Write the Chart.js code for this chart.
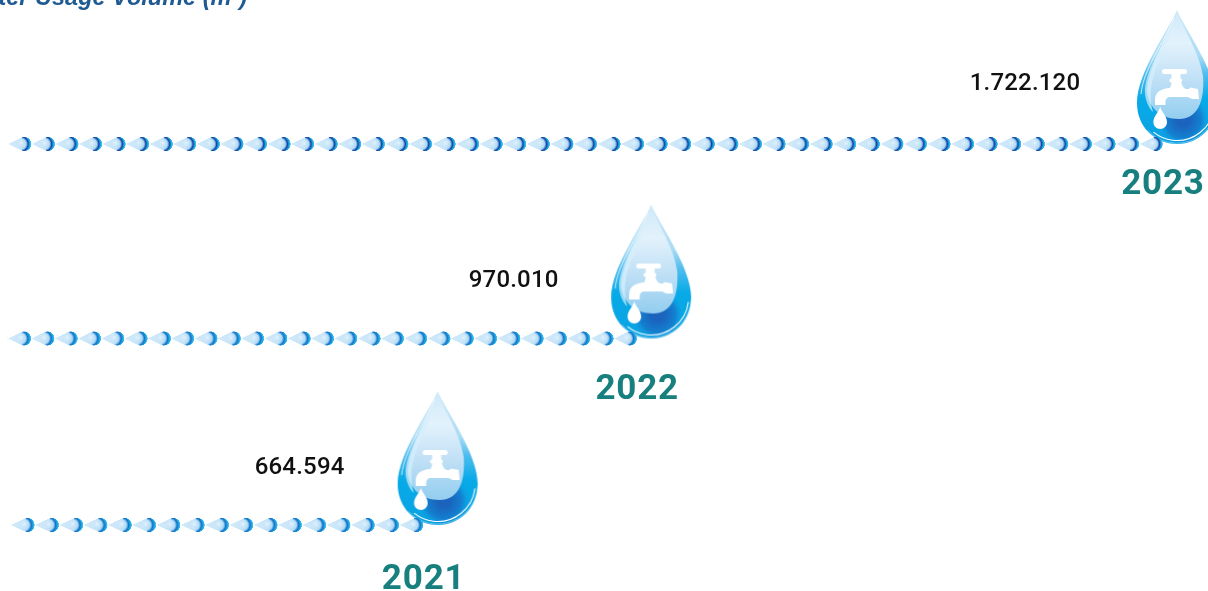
<!DOCTYPE html>
<html><head><meta charset="utf-8">
<style>html,body{margin:0;padding:0;background:#fff;overflow:hidden}canvas{display:block}</style>
<script src="https://cdn.jsdelivr.net/npm/chart.js@4"></script>
</head><body><canvas id="c" width="1208" height="591"></canvas>
<script>
const titleText = 'Water Usage Volume (m³)';
const years = ['2023', '2022', '2021'];
const usage = [1722120, 970010, 664594];
const chainStart = [70500, 70500, 74000];

const rowLayout = {
  nudge: [0, 4, 0],
  period: [23.57, 23.3, 24.3],
  navy: ['#1b3c9a', '#1a6fc4', '#1a6fc4'],
  valueDx: [-138, -123.5, -124],
  valueDy: [-60, -58, -57],
  yearDy: [41.5, 52, 55]
};

class RowScale extends Chart.CategoryScale {
  getPixelForValue(value, index) {
    const i = typeof value === 'number' ? value : this.parse(value);
    return super.getPixelForValue(value, index) + (rowLayout.nudge[Math.round(i)] || 0);
  }
}
RowScale.id = 'rowScale';
RowScale.defaults = {};
Chart.register(RowScale);

function smallDrop(g, w, navy) {
  const r = 7, cy = 8, cx = w - r - 0.3, tip = 0.2;
  const a = Math.acos(r / (cx - tip));
  const shape = () => {
    g.beginPath();
    g.moveTo(tip, cy);
    g.lineTo(cx - r * Math.cos(a), cy - r * Math.sin(a));
    g.arc(cx, cy, r, Math.PI + a, Math.PI - a);
    g.closePath();
  };
  shape();
  const lg = g.createLinearGradient(tip, 0, w, 0);
  lg.addColorStop(0, '#d3ebfa');
  lg.addColorStop(0.5, '#c8e5f8');
  lg.addColorStop(0.8, '#a8d7f4');
  lg.addColorStop(1, '#7fc6ee');
  g.fillStyle = lg; g.fill();
  g.save(); shape(); g.clip();
  const rim = g.createRadialGradient(cx - 3.5, cy, 3, cx - 3.5, cy, 10.7);
  rim.addColorStop(0, 'rgba(60,160,230,0)');
  rim.addColorStop(0.25, 'rgba(60,160,230,0)');
  rim.addColorStop(0.55, navy);
  rim.addColorStop(0.76, '#15a6e4');
  rim.addColorStop(1, '#5fc6f0');
  g.fillStyle = rim;
  g.fillRect(cx - 2, 0, r + 4, 16);
  const hi = g.createRadialGradient(cx - 3, cy - 1, 0, cx - 3, cy - 1, 5.5);
  hi.addColorStop(0, 'rgba(235,247,255,0.8)');
  hi.addColorStop(1, 'rgba(200,230,250,0)');
  g.fillStyle = hi;
  g.fillRect(cx - 9, 0, 14, 16);
  g.restore();
}

function chainFill(ctx) {
  const i = ctx.dataIndex;
  if (i === undefined) return '#8fd0f0';
  const chart = ctx.chart;
  const xs = chart.scales.x, ys = chart.scales.y;
  const period = rowLayout.period[i];
  const k = 4, tw = Math.round(period * k), th = 16 * k;
  const tile = document.createElement('canvas');
  tile.width = tw; tile.height = th;
  const g = tile.getContext('2d');
  g.scale(tw / period, k);
  smallDrop(g, period, rowLayout.navy[i]);
  const pat = chart.ctx.createPattern(tile, 'repeat');
  pat.setTransform(new DOMMatrix()
    .translate(xs.getPixelForValue(usage[i]), ys.getPixelForValue(i) - 8)
    .scale(period / tw, 1 / k));
  return pat;
}

function bigDropImage() {
  const W = 200, H = 320;
  const cv = document.createElement('canvas');
  cv.width = W; cv.height = H;
  const g = cv.getContext('2d');
  g.translate(W / 2 + 14 - 40, H / 2 - 134);
  const outer = () => {
    g.beginPath();
    g.moveTo(40, 0);
    g.bezierCurveTo(47, 18, 80, 62, 80, 93);
    g.bezierCurveTo(80, 117, 62, 134, 40, 134);
    g.bezierCurveTo(18, 134, 0, 117, 0, 93);
    g.bezierCurveTo(0, 62, 33, 18, 40, 0);
    g.closePath();
  };
  outer();
  const base = g.createLinearGradient(0, 0, 0, 134);
  base.addColorStop(0, '#cfe9f9');
  base.addColorStop(0.34, '#a9dbf5');
  base.addColorStop(0.48, '#4fbdee');
  base.addColorStop(0.66, '#08aae8');
  base.addColorStop(1, '#0aa2e2');
  g.fillStyle = base; g.fill();
  g.save(); outer(); g.clip();
  const deep = g.createRadialGradient(46, 110, 6, 46, 110, 26);
  deep.addColorStop(0, '#1b63bc');
  deep.addColorStop(0.6, '#1480d0');
  deep.addColorStop(1, 'rgba(16,160,226,0)');
  g.fillStyle = deep; g.fillRect(0, 70, 80, 64);
  g.restore();

  g.beginPath();
  g.moveTo(40, 2);
  g.bezierCurveTo(48, 22, 62, 42, 66, 66);
  g.bezierCurveTo(68, 92, 60, 109, 42, 109);
  g.bezierCurveTo(24, 109, 12, 98, 10, 82);
  g.bezierCurveTo(10, 60, 32, 22, 40, 2);
  g.closePath();
  const lit = g.createLinearGradient(0, 0, 0, 110);
  lit.addColorStop(0, '#cfe9f9');
  lit.addColorStop(0.3, '#e3f2fc');
  lit.addColorStop(0.58, '#c6e3f7');
  lit.addColorStop(1, '#92cdef');
  g.fillStyle = lit; g.fill();

  g.beginPath();
  g.moveTo(36, 14);
  g.bezierCurveTo(26, 36, 7, 62, 8, 84);
  g.bezierCurveTo(9, 92, 12, 98, 16, 102);
  g.bezierCurveTo(12, 88, 13, 70, 22, 52);
  g.bezierCurveTo(28, 38, 33, 26, 36, 14);
  g.closePath();
  g.fillStyle = 'rgba(214,240,252,0.7)'; g.fill();

  g.beginPath();
  g.moveTo(37, 8);
  g.bezierCurveTo(28, 30, 6, 60, 4, 84);
  g.strokeStyle = 'rgba(255,255,255,0.8)'; g.lineWidth = 0.9; g.stroke();

  g.beginPath();
  g.arc(40, 93, 37.5, 0.12, 2.25);
  g.strokeStyle = '#ffffff'; g.lineWidth = 1.1; g.stroke();
  g.beginPath();
  g.arc(40, 93, 40.2, 0.05, 2.4);
  g.strokeStyle = 'rgba(255,255,255,0.55)'; g.lineWidth = 0.7; g.stroke();

  g.fillStyle = '#ffffff';
  g.beginPath();
  g.roundRect(25, 59, 25, 5, 2.5); g.fill();
  g.beginPath();
  g.roundRect(34.5, 62, 9, 8, 1.5); g.fill();
  g.beginPath();
  g.roundRect(32.5, 68.5, 12.5, 4, 1.5); g.fill();
  g.beginPath();
  g.moveTo(35, 72);
  g.lineTo(44, 72);
  g.bezierCurveTo(45, 75, 46, 78, 49, 79);
  g.lineTo(52, 79);
  g.lineTo(53, 77.5);
  g.lineTo(61, 79);
  g.lineTo(62, 89);
  g.lineTo(55, 89);
  g.lineTo(51, 87);
  g.lineTo(34, 87);
  g.bezierCurveTo(30, 87, 28.5, 89, 28.5, 92);
  g.lineTo(28.5, 95);
  g.lineTo(18, 95);
  g.lineTo(18, 90);
  g.bezierCurveTo(18, 82, 24, 78.5, 33, 78);
  g.closePath();
  g.fill();
  g.beginPath();
  g.moveTo(23.2, 97);
  g.bezierCurveTo(25, 103, 30, 106, 30, 112);
  g.bezierCurveTo(30, 116, 27, 119, 23.2, 119);
  g.bezierCurveTo(19.4, 119, 16.4, 116, 16.4, 112);
  g.bezierCurveTo(16.4, 106, 21.4, 103, 23.2, 97);
  g.closePath();
  g.fill();
  return cv;
}

const bigDrop = bigDropImage();

const textPlugin = {
  id: 'rowText',
  afterDatasetsDraw(chart) {
    const g = chart.ctx, xs = chart.scales.x, ys = chart.scales.y;
    g.save();
    g.textBaseline = 'middle';
    years.forEach((yr, i) => {
      const x = xs.getPixelForValue(usage[i]);
      const y = ys.getPixelForValue(i);
      g.textAlign = 'center';
      g.fillStyle = '#111111';
      g.font = '500 24px Roboto';
      g.letterSpacing = '0.2px';
      g.fillText(usage[i].toLocaleString('de-DE'), x + rowLayout.valueDx[i], y + rowLayout.valueDy[i]);
      g.fillStyle = '#17807f';
      g.font = '700 35px Roboto';
      g.letterSpacing = '0.8px';
      g.fillText(yr, x, y + rowLayout.yearDy[i]);
      g.letterSpacing = '0px';
    });
    g.textBaseline = 'alphabetic';
    g.textAlign = 'right';
    g.fillStyle = '#1f5b92';
    g.font = 'italic 700 23.5px "Liberation Sans"';
    g.fillText(titleText, 247, 5);
    g.restore();
  }
};

new Chart(document.getElementById('c'), {
  type: 'bar',
  data: {
    labels: years,
    datasets: [
      {
        type: 'line',
        label: 'Water usage',
        data: usage,
        showLine: false,
        pointStyle: bigDrop,
        pointRadius: 10,
        clip: false,
        order: 2
      },
      {
        type: 'bar',
        label: 'Water usage chain',
        data: usage.map((v, i) => [chainStart[i], v]),
        backgroundColor: chainFill,
        barThickness: 16,
        borderWidth: 0,
        clip: false,
        order: 1
      }
    ]
  },
  options: {
    indexAxis: 'y',
    responsive: false,
    animation: false,
    layout: { autoPadding: false, padding: { left: 8, right: 0, top: 144, bottom: 66 } },
    plugins: { legend: { display: false }, tooltip: { enabled: false }, title: { display: false } },
    scales: {
      x: { type: 'linear', min: 70100, max: 1786500, display: false, grid: { display: false } },
      y: { type: 'rowScale', offset: false, display: false, grid: { display: false } }
    }
  },
  plugins: [textPlugin]
});
</script></body></html>
